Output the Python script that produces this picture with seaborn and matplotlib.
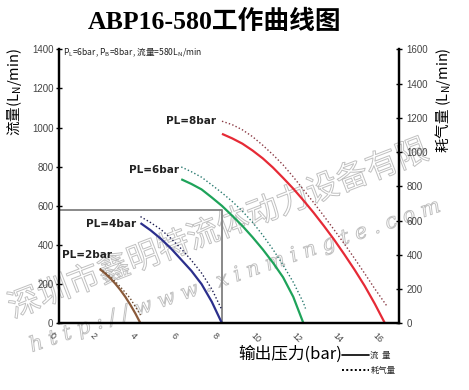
import numpy as np
import pandas as pd
import matplotlib
matplotlib.use("Agg")
import matplotlib.pyplot as plt
import matplotlib.patheffects as pe
from matplotlib.lines import Line2D
from matplotlib.transforms import ScaledTranslation
import seaborn as sns

# ---------------- data ----------------
series_names = ["PL=2bar", "PL=4bar", "PL=6bar", "PL=8bar"]

# flow (left axis, solid)
flow_x_2 = [2.0, 2.25, 2.5, 2.75, 3.0, 3.25, 3.5, 3.75, 4.0]
flow_y_2 = [277, 256, 232, 204, 172, 136, 95, 50, 0]
flow_x_4 = [4.0, 4.5, 5.0, 5.5, 6.0, 6.5, 7.0, 7.5, 8.0]
flow_y_4 = [512, 475, 432, 382, 325, 268, 200, 110, 0]
flow_x_6 = [6.0, 6.5, 7.0, 7.5, 8.0, 8.5, 9.0, 9.5, 10.0, 10.5, 11.0, 11.5, 12.0]
flow_y_6 = [736, 712, 684, 643, 600, 550, 498, 440, 378, 310, 235, 135, 0]
flow_x_8 = [8.0, 8.5, 9.0, 9.5, 10.0, 10.5, 11.0, 11.5, 12.0, 12.5, 13.0, 13.5, 14.0, 14.5, 15.0, 15.5, 16.0]
flow_y_8 = [968, 945, 918, 883, 843, 796, 743, 688, 628, 565, 498, 428, 353, 275, 192, 100, 0]

# air consumption (right axis, dotted)
cons_x_2 = [2.0, 2.5, 3.0, 3.5, 4.0]
cons_y_2 = [320, 275, 215, 145, 48]
cons_x_4 = [4.0, 4.5, 5.0, 5.5, 6.0, 6.5, 7.0, 7.5, 8.0]
cons_y_4 = [623, 588, 548, 495, 435, 368, 293, 200, 77]
cons_x_6 = [6.0, 6.5, 7.0, 7.5, 8.0, 8.5, 9.0, 9.5, 10.0, 10.5, 11.0, 11.5, 12.0, 12.1]
cons_y_6 = [913, 885, 853, 808, 762, 712, 655, 590, 515, 432, 340, 240, 120, 86]
cons_x_8 = [8.0, 8.5, 9.0, 9.5, 10.0, 10.5, 11.0, 11.5, 12.0, 12.5, 13.0, 13.5, 14.0, 14.5, 15.0, 15.5, 16.1]
cons_y_8 = [1180, 1160, 1130, 1090, 1040, 985, 925, 855, 780, 705, 627, 547, 465, 380, 292, 202, 100]

box_pressure = 8
box_flow = 580

x_ticks = [0, 2, 4, 6, 8, 10, 12, 14, 16]
left_ticks = [0, 200, 400, 600, 800, 1000, 1200, 1400]
right_ticks = [0, 200, 400, 600, 800, 1000, 1200, 1400, 1600]

title_text = "ABP16-580工作曲线图"
xlabel_text = "输出压力(bar)"
ylabel_left = "流量(L$_\\mathregular{N}$/min)"
ylabel_right = "耗气量 (L$_\\mathregular{N}$/min)"
note_text = "P$_\\mathregular{L}$=6bar, P$_\\mathregular{B}$=8bar, 流量=580L$_\\mathregular{N}$/min"
legend_labels = ["流  量", "耗气量"]
wm_cn = "深圳市鑫明特流体动力设备有限"
wm_url = "h t t p : / / w w w . x i n m i n g t e . c o m"

# ---------------- tables ----------------
flow_df = pd.concat([
    pd.DataFrame({"p": flow_x_2, "v": flow_y_2, "s": series_names[0]}),
    pd.DataFrame({"p": flow_x_4, "v": flow_y_4, "s": series_names[1]}),
    pd.DataFrame({"p": flow_x_6, "v": flow_y_6, "s": series_names[2]}),
    pd.DataFrame({"p": flow_x_8, "v": flow_y_8, "s": series_names[3]}),
], ignore_index=True)
cons_df = pd.concat([
    pd.DataFrame({"p": cons_x_2, "v": cons_y_2, "s": series_names[0]}),
    pd.DataFrame({"p": cons_x_4, "v": cons_y_4, "s": series_names[1]}),
    pd.DataFrame({"p": cons_x_6, "v": cons_y_6, "s": series_names[2]}),
    pd.DataFrame({"p": cons_x_8, "v": cons_y_8, "s": series_names[3]}),
], ignore_index=True)

solid_pal = {"PL=2bar": "#8a5a3a", "PL=4bar": "#2b2f8c", "PL=6bar": "#1ea35a", "PL=8bar": "#e62a36"}
dot_pal = {"PL=2bar": "#6b4a30", "PL=4bar": "#1c1c50", "PL=6bar": "#2a7a70", "PL=8bar": "#8a3a44"}

# ---------------- figure ----------------
sns.set_theme(style="white")
plt.rcParams["font.family"] = ["Liberation Sans", "Noto Sans CJK SC", "DejaVu Sans"]

W, H = 469, 390
fig = plt.figure(figsize=(W / 100, H / 100), dpi=100)
ax = fig.add_axes([59 / W, 1 - 323.3 / H, 340 / W, 274 / H])
ax2 = ax.twinx()

# watermark (behind curves)
cjk = ["Noto Sans CJK SC", "DejaVu Sans"]
ax.text(13 / W, 1 - 318 / H, wm_cn, transform=fig.transFigure, rotation=21, rotation_mode="anchor",
        ha="left", va="baseline", fontsize=23, family=cjk, color="none", clip_on=False, zorder=0.5,
        path_effects=[pe.withStroke(linewidth=0.7, foreground="#c0c0c0")])
ax.text(32 / W, 1 - 352 / H, wm_url, transform=fig.transFigure, rotation=19, rotation_mode="anchor",
        ha="left", va="baseline", fontsize=15, family=["DejaVu Serif"], style="italic", color="none",
        clip_on=False, zorder=0.5,
        path_effects=[pe.withStroke(linewidth=0.7, foreground="#c0c0c0")])

sns.lineplot(data=flow_df, x="p", y="v", hue="s", palette=solid_pal, ax=ax, legend=False,
             linewidth=1.6, estimator=None, sort=True)
sns.lineplot(data=cons_df, x="p", y="v", hue="s", palette=dot_pal, ax=ax2, legend=False,
             linewidth=1.0, estimator=None, sort=True)
for ln in ax.get_lines():
    ln.set_solid_joinstyle("round")
    ln.set_solid_capstyle("butt")
for ln in ax2.get_lines():
    ln.set_linestyle((0, (1, 1.6)))

# gray box
ax.plot([0, box_pressure, box_pressure], [box_flow, box_flow, 0], color="#808080", lw=1.3, zorder=1.5)

# series labels
label_offsets = {"PL=2bar": (9, 10), "PL=4bar": (-3, -1), "PL=6bar": (-1.5, 7), "PL=8bar": (-4, 9)}
starts = {s: (g["p"].iloc[0], g["v"].iloc[0]) for s, g in flow_df.groupby("s")}
for s in series_names:
    ax.annotate(s, xy=starts[s], xytext=label_offsets[s], textcoords="offset points",
                ha="right", va="center", fontsize=7.5, fontweight="bold",
                family=["DejaVu Sans"], color="#222222", zorder=5)

# axes styling
ax.set_xlim(0, 16.69)
ax.set_ylim(0, 1400)
ax2.set_ylim(0, 1600)
ax.set_xticks(x_ticks)
ax.set_xticks(np.arange(0, 17, 1), minor=True)
ax.set_yticks(left_ticks)
ax2.set_yticks(right_ticks)
ax.set_xticklabels([str(t) for t in x_ticks], rotation=-45, ha="center", fontsize=6.5, color="#444444")
ax.set_yticklabels([str(t) for t in left_ticks], fontsize=7, color="#444444")
ax2.set_yticklabels([str(t) for t in right_ticks], fontsize=7, color="#444444")
ax.tick_params(axis="x", which="both", direction="inout", length=5, width=1, color="black", pad=3)
ax.tick_params(axis="y", which="both", direction="inout", length=5, width=1, color="black", pad=1.5)
ax2.tick_params(axis="y", direction="inout", length=5, width=1, color="black", pad=3)
for lab in ax.get_xticklabels():
    lab.set_transform(lab.get_transform() + ScaledTranslation(-7 / 100, 0, fig.dpi_scale_trans))
ax.set_xlabel("")
ax.set_ylabel("")
ax2.set_ylabel("")
for a in (ax, ax2):
    a.spines["top"].set_visible(False)
    for sp in ("left", "right", "bottom"):
        a.spines[sp].set_color("black")
        a.spines[sp].set_linewidth(1.6)
ax.grid(False)
ax2.grid(False)
ax.patch.set_alpha(0)

# texts
fig.text(215 / W, 1 - 21.5 / H, title_text, ha="center", va="center", fontsize=18.5, fontweight="bold",
         family=["Liberation Serif", "Noto Sans CJK SC"], color="black")
fig.text(290 / W, 1 - 354 / H, xlabel_text, ha="center", va="center", fontsize=12,
         family=cjk, color="black")
fig.text(15 / W, 1 - 92 / H, ylabel_left, ha="center", va="center", rotation=90, fontsize=10.5,
         family=cjk, color="black")
fig.text(443 / W, 1 - 100 / H, ylabel_right, ha="center", va="center", rotation=90, fontsize=10.5,
         family=cjk, color="black")
fig.text(63 / W, 1 - 52 / H, note_text, ha="left", va="center", fontsize=6.2,
         family=cjk, color="#222222")

handles = [Line2D([], [], color="black", lw=1.2),
           Line2D([], [], color="black", lw=1.4, linestyle=(0, (1, 1.2)))]
leg = ax.legend(handles, legend_labels, loc="center left", bbox_to_anchor=(342 / W, 1 - 363 / H),
                bbox_transform=fig.transFigure, frameon=False, handlelength=3.2, handletextpad=0.2,
                labelspacing=0.7, borderpad=0, borderaxespad=0,
                prop={"family": cjk, "size": 6})

fig.savefig("out.png", dpi=100)
